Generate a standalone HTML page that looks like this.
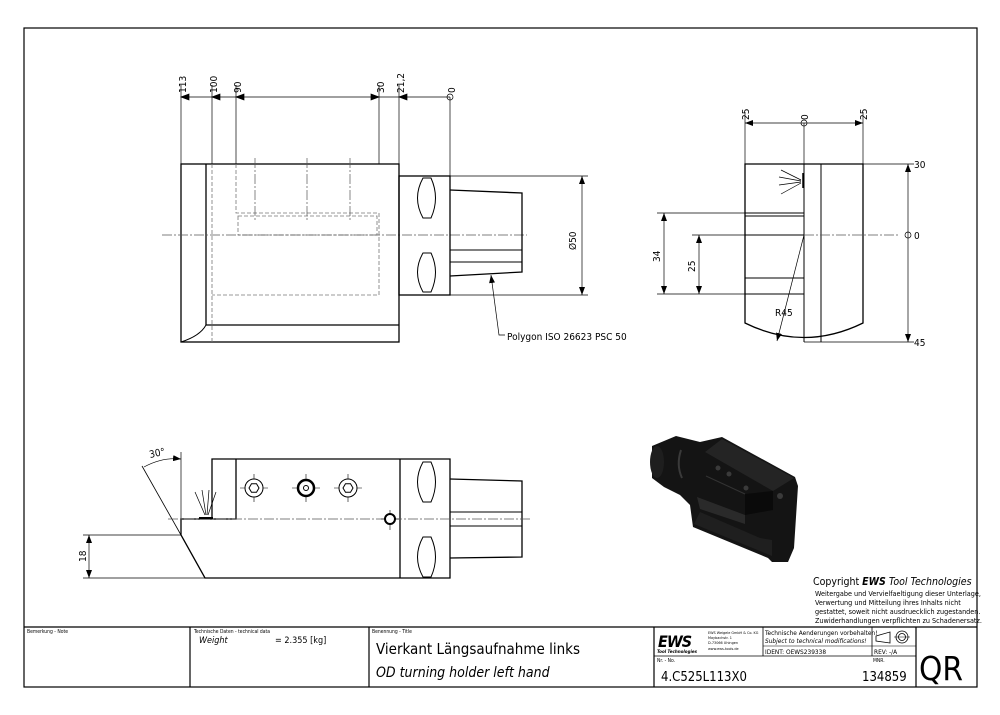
<!DOCTYPE html>
<html><head><meta charset="utf-8"><style>
html,body{margin:0;padding:0;background:#fff}
svg{display:block}
text{font-family:"DejaVu Sans Condensed","Liberation Sans",sans-serif;fill:#000}
</style></head><body>
<svg width="1000" height="715" viewBox="0 0 1000 715" xmlns="http://www.w3.org/2000/svg">
<defs>
<marker id="a" markerWidth="8" markerHeight="6" refX="8" refY="3" orient="auto-start-reverse" markerUnits="userSpaceOnUse"><path d="M0,0 L8,3 L0,6z" fill="#000"/></marker>
</defs>
<rect x="24" y="28" width="953" height="659" fill="none" stroke="#000" stroke-width="1.2"/>

<!-- TOP VIEW -->
<g stroke="#000" fill="none" stroke-width="1">
<rect x="181" y="164" width="218" height="178" stroke-width="1.3"/>
<line x1="206" y1="164" x2="206" y2="325" stroke-width="1.3"/>
<line x1="206" y1="325" x2="399" y2="325" stroke-width="1.3"/>
<path d="M181,342 Q200,336 206,325"/>
<g stroke="#777" stroke-dasharray="4,2" stroke-width="0.8">
<line x1="212" y1="164" x2="212" y2="342"/>
<polyline points="236,164 236,213 379,213 379,295 212,295"/>
<rect x="238" y="216" width="139" height="19"/>
</g>
<g stroke="#555" stroke-dasharray="10,2,2,2" stroke-width="0.7">
<line x1="255" y1="158" x2="255" y2="220"/><line x1="307" y1="158" x2="307" y2="220"/><line x1="350" y1="158" x2="350" y2="220"/>
<line x1="162" y1="235" x2="527" y2="235"/>
</g>
<rect x="399" y="176" width="51" height="119" stroke-width="1.3"/>
<path d="M423,178 Q412,198 423,218 L431,218 Q440,198 431,178 Z"/>
<path d="M423,253 Q412,272 423,292 L431,292 Q440,272 431,253 Z"/>
<polyline points="450,190 522,193 522,272 450,276" stroke-width="1.3"/>
<line x1="450" y1="250" x2="522" y2="250"/><line x1="450" y1="262" x2="522" y2="262"/>
<g stroke-width="0.7">
<line x1="450" y1="176" x2="588" y2="176"/><line x1="450" y1="295" x2="588" y2="295"/>
<line x1="582" y1="176" x2="582" y2="295" marker-start="url(#a)" marker-end="url(#a)"/>
<polyline points="491,275 499,335 505,335" marker-start="url(#a)"/>
<line x1="181" y1="85" x2="181" y2="164"/><line x1="212" y1="85" x2="212" y2="164"/><line x1="236" y1="85" x2="236" y2="164"/>
<line x1="379" y1="85" x2="379" y2="164"/><line x1="399" y1="85" x2="399" y2="176"/><line x1="450" y1="97" x2="450" y2="176"/>
<line x1="181" y1="97" x2="450" y2="97"/>
<path d="M181,97 l8,-3 v6z M212,97 l8,-3 v6z M236,97 l8,-3 v6z M379,97 l-8,-3 v6z M399,97 l8,-3 v6z" fill="#000"/>
<circle cx="450" cy="97" r="3"/>
</g>
</g>
<g font-size="10">
<text transform="translate(186,93) rotate(-90)">113</text>
<text transform="translate(217,93) rotate(-90)">100</text>
<text transform="translate(241,93) rotate(-90)">90</text>
<text transform="translate(384,93) rotate(-90)">30</text>
<text transform="translate(404,93) rotate(-90)">21,2</text>
<text transform="translate(455,93) rotate(-90)">0</text>
<text transform="translate(576,250) rotate(-90)">Ø50</text>
<text x="507" y="340">Polygon ISO 26623 PSC 50</text>
</g>

<!-- RIGHT VIEW -->
<g stroke="#000" fill="none" stroke-width="1">
<path d="M745,164 H863 V323 Q804,352 745,323 Z" stroke-width="1.3"/>
<line x1="804" y1="164" x2="804" y2="342"/>
<line x1="821" y1="164" x2="821" y2="342"/>
<rect x="745" y="216" width="59" height="19"/>
<line x1="745" y1="213" x2="804" y2="213"/>
<line x1="745" y1="278" x2="804" y2="278"/>
<line x1="745" y1="294" x2="804" y2="294"/>
<g stroke-width="0.7">
<line x1="803" y1="173" x2="803" y2="188" stroke-width="1.5"/>
<line x1="801" y1="180" x2="781" y2="170"/><line x1="801" y1="181" x2="779" y2="177"/><line x1="801" y1="182" x2="779" y2="185"/><line x1="801" y1="183" x2="781" y2="194"/>
<line x1="745" y1="112" x2="745" y2="164"/><line x1="863" y1="112" x2="863" y2="164"/><line x1="804" y1="123" x2="804" y2="164"/>
<line x1="745" y1="123" x2="863" y2="123" marker-start="url(#a)" marker-end="url(#a)"/>
<circle cx="804" cy="123" r="3"/>
<line x1="863" y1="164" x2="914" y2="164"/><line x1="804" y1="342" x2="914" y2="342"/>
<line x1="908" y1="164" x2="908" y2="342" marker-start="url(#a)" marker-end="url(#a)"/>
<circle cx="908" cy="235" r="3"/>
<line x1="657" y1="213" x2="745" y2="213"/><line x1="657" y1="294" x2="745" y2="294"/><line x1="692" y1="235" x2="745" y2="235"/>
<line x1="664" y1="213" x2="664" y2="294" marker-start="url(#a)" marker-end="url(#a)"/>
<line x1="699" y1="235" x2="699" y2="294" marker-start="url(#a)" marker-end="url(#a)"/>
<line x1="804" y1="235" x2="777" y2="341" marker-end="url(#a)"/>
</g>
<line x1="804" y1="235" x2="900" y2="235" stroke="#555" stroke-dasharray="10,2,2,2" stroke-width="0.7"/>
</g>
<g font-size="10">
<text transform="translate(749,120) rotate(-90)">25</text>
<text transform="translate(808,120) rotate(-90)">0</text>
<text transform="translate(867,120) rotate(-90)">25</text>
<text x="914" y="168">30</text><text x="914" y="239">0</text><text x="914" y="346">45</text>
<text transform="translate(660,262) rotate(-90)">34</text>
<text transform="translate(695,272) rotate(-90)">25</text>
<text x="775" y="316">R45</text>
</g>

<!-- BOTTOM LEFT VIEW -->
<g stroke="#000" fill="none" stroke-width="1">
<polyline points="212,519 212,459 450,459 450,578 205,578 181,535 181,519 236,519 236,459" stroke-width="1.3"/>
<line x1="400" y1="459" x2="400" y2="578" stroke-width="1.3"/>
<line x1="142" y1="466" x2="181" y2="535" stroke-width="0.8"/>
<line x1="181" y1="452" x2="181" y2="519" stroke-width="0.7"/>
<path d="M144,467 Q162,457 181,459" stroke-width="0.7" marker-end="url(#a)"/>
<path d="M423,462 Q412,482 423,502 L431,502 Q440,482 431,462 Z"/>
<path d="M423,537 Q412,557 423,577 L431,577 Q440,557 431,537 Z"/>
<polyline points="450,479 522,481 522,557 450,558" stroke-width="1.3"/>
<line x1="450" y1="512" x2="522" y2="512"/><line x1="450" y1="526" x2="522" y2="526"/>
<line x1="168" y1="519" x2="532" y2="519" stroke="#555" stroke-dasharray="10,2,2,2" stroke-width="0.7"/>
<g stroke-width="0.6">
<line x1="240" y1="488" x2="268" y2="488"/><line x1="254" y1="474" x2="254" y2="502"/>
<line x1="292" y1="488" x2="320" y2="488"/><line x1="306" y1="474" x2="306" y2="502"/>
<line x1="334" y1="488" x2="362" y2="488"/><line x1="348" y1="474" x2="348" y2="502"/>
<line x1="381" y1="519" x2="399" y2="519"/><line x1="390" y1="510" x2="390" y2="530"/>
</g>
<circle cx="254" cy="488" r="9" fill="#fff"/><polygon points="259,488 256.5,492.3 251.5,492.3 249,488 251.5,483.7 256.5,483.7"/>
<circle cx="306" cy="488" r="8" fill="#fff" stroke-width="2.5"/><circle cx="306" cy="488" r="2.5"/>
<circle cx="348" cy="488" r="9" fill="#fff"/><polygon points="353,488 350.5,492.3 345.5,492.3 343,488 345.5,483.7 350.5,483.7"/>
<circle cx="390" cy="519" r="5" fill="#fff" stroke-width="2"/>
<g stroke-width="0.7">
<line x1="199" y1="518" x2="213" y2="518" stroke-width="2"/>
<line x1="205" y1="515" x2="195" y2="492"/><line x1="206" y1="515" x2="202" y2="490"/><line x1="207" y1="515" x2="209" y2="490"/><line x1="208" y1="515" x2="216" y2="492"/>
<line x1="83" y1="535" x2="181" y2="535"/><line x1="83" y1="578" x2="205" y2="578"/>
<line x1="89" y1="535" x2="89" y2="578" marker-start="url(#a)" marker-end="url(#a)"/>
</g>
</g>
<g font-size="10">
<text x="150" y="458" transform="rotate(-12,150,458)">30°</text>
<text transform="translate(86,562) rotate(-90)">18</text>
</g>

<!-- 3D view -->
<g>
<polygon points="652,446 676,436 700,442 722,437 795,477 798,486 794,548 788,562 772,562 768,558 693,527 690,505 680,495 664,487 652,478" fill="#141414"/>
<ellipse cx="657" cy="462" rx="7" ry="16" fill="#1e1e1e"/>
<polygon points="705,452 722,439 794,478 773,491" fill="#242424"/>
<polygon points="745,494 773,491 773,510 745,515" fill="#0a0a0a"/>
<polygon points="697,497 745,515 745,524 700,509" fill="#2a2a2a"/>
<polygon points="700,512 760,538 772,540 772,556 694,524" fill="#1f1f1f"/>
<line x1="706" y1="476" x2="745" y2="494" stroke="#333" stroke-width="1"/>
<circle cx="718" cy="468" r="2.5" fill="#3a3a3a"/><circle cx="729" cy="474" r="2.5" fill="#3a3a3a"/><circle cx="746" cy="488" r="2.5" fill="#3a3a3a"/>
<circle cx="780" cy="496" r="3" fill="#3a3a3a"/>
<path d="M681,450 Q676,465 682,478" stroke="#3a3a3a" fill="none" stroke-width="2"/>
</g>

<text x="813" y="585" font-size="10.5" font-family="Liberation Sans,sans-serif">Copyright <tspan font-weight="bold" font-style="italic">EWS</tspan> <tspan font-style="italic">Tool Technologies</tspan></text>
<g font-size="7.2" font-family="Liberation Sans,sans-serif">
<text x="815" y="596">Weitergabe und Vervielfaeltigung dieser Unterlage,</text>
<text x="815" y="605">Verwertung und Mitteilung ihres Inhalts nicht</text>
<text x="815" y="614">gestattet, soweit nicht ausdruecklich zugestanden.</text>
<text x="815" y="623">Zuwiderhandlungen verpflichten zu Schadenersatz.</text>
</g>

<!-- TITLE BLOCK -->
<g stroke="#000" fill="none" stroke-width="1.2">
<line x1="24" y1="627" x2="977" y2="627"/>
<line x1="190" y1="627" x2="190" y2="687"/><line x1="369" y1="627" x2="369" y2="687"/>
<line x1="654" y1="627" x2="654" y2="687"/><line x1="916" y1="627" x2="916" y2="687"/>
<line x1="654" y1="656" x2="916" y2="656" stroke-width="0.8"/>
<line x1="763" y1="627" x2="763" y2="656" stroke-width="0.8"/>
<line x1="872" y1="627" x2="872" y2="656" stroke-width="0.8"/>
<line x1="763" y1="646" x2="916" y2="646" stroke-width="0.6"/>
</g>
<g font-size="5">
<text x="27" y="633">Bemerkung - Note</text>
<text x="194" y="633">Technische Daten - technical data</text>
<text x="372" y="633">Benennung - Title</text>
<text x="657" y="662">Nr. - No.</text>
<text x="873" y="662">MNR.</text>
</g>
<text x="199" y="643" font-size="9" font-style="italic">Weight</text>
<text x="275" y="643" font-size="9">= 2.355 [kg]</text>
<text x="376" y="654" font-size="15">Vierkant Längsaufnahme links</text>
<text x="376" y="677" font-size="14" font-style="italic">OD turning holder left hand</text>
<text x="658" y="647" font-size="16" font-weight="bold" font-style="italic" font-family="Liberation Sans,sans-serif" letter-spacing="-1">EWS</text>
<text x="657" y="653" font-size="4.5" font-weight="bold" font-style="italic">Tool Technologies</text>
<g font-size="3.8"><text x="708" y="634">EWS Weigele GmbH &amp; Co. KG</text><text x="708" y="639">Maybachstr. 1</text><text x="708" y="644">D-73066 Uhingen</text><text x="708" y="650">www.ews-tools.de</text></g>
<text x="765" y="635" font-size="6.5">Technische Aenderungen vorbehalten!</text>
<text x="765" y="643" font-size="6.5" font-style="italic">Subject to technical modifications!</text>
<text x="765" y="654" font-size="6.5">IDENT:  OEWS239338</text>
<text x="874" y="654" font-size="6.5">REV:  -/A</text>
<g stroke="#000" fill="none" stroke-width="0.8">
<polygon points="876,636 890,632 890,643 876,641"/>
<circle cx="902" cy="637" r="6"/><circle cx="902" cy="637" r="3.5"/>
<line x1="894" y1="637" x2="910" y2="637" stroke-width="0.5"/>
</g>
<text x="661" y="681" font-size="13">4.C525L113X0</text>
<text x="862" y="681" font-size="13">134859</text>
<text x="919" y="680" font-size="33">QR</text>
</svg>
</body></html>
